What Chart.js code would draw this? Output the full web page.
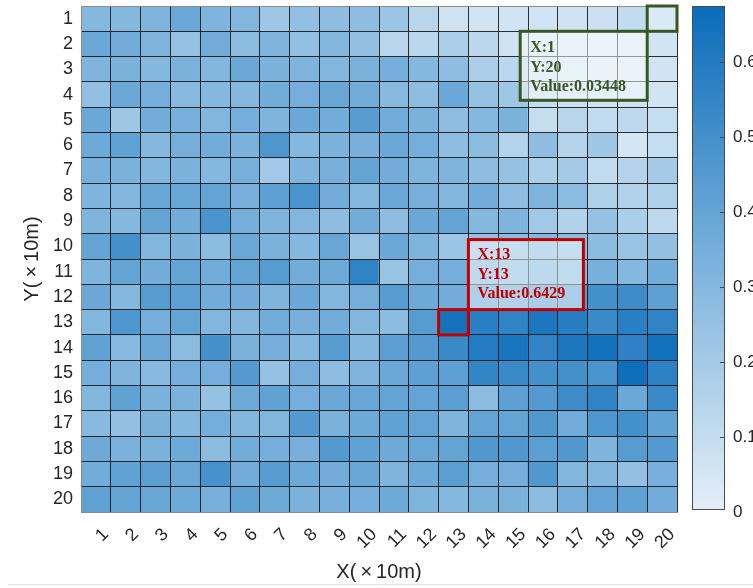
<!DOCTYPE html>
<html>
<head>
<meta charset="utf-8">
<script src="https://cdn.jsdelivr.net/npm/chart.js@4/dist/chart.umd.min.js"></script>
<style>
  html, body { margin: 0; padding: 0; background: #fff; overflow: hidden; }
</style>
</head>
<body>
<canvas id="c" width="753" height="588"></canvas>
<script>
// Grid axes (in units of 10 m)
const xLabels = ['1','2','3','4','5','6','7','8','9','10','11','12','13','14','15','16','17','18','19','20'];
const yLabels = ['1','2','3','4','5','6','7','8','9','10','11','12','13','14','15','16','17','18','19','20'];

// Cell values, one array per row (row 1 at the top), columns 1..20
const row01 = [0.30,0.30,0.32,0.38,0.32,0.31,0.22,0.26,0.27,0.27, 0.23,0.14,0.07,0.06,0.06,0.06,0.07,0.08,0.11,0.03448];
const row02 = [0.38,0.36,0.32,0.25,0.36,0.28,0.32,0.26,0.31,0.26, 0.14,0.13,0.18,0.13,0.07,0.06,0.05,0.04,0.05,0.06];
const row03 = [0.32,0.33,0.30,0.33,0.31,0.38,0.33,0.32,0.31,0.33, 0.35,0.30,0.27,0.18,0.13,0.08,0.06,0.05,0.05,0.06];
const row04 = [0.26,0.38,0.35,0.29,0.30,0.30,0.36,0.35,0.39,0.36, 0.29,0.27,0.38,0.25,0.22,0.10,0.08,0.07,0.07,0.06];
const row05 = [0.38,0.22,0.36,0.34,0.31,0.35,0.32,0.38,0.36,0.44, 0.36,0.33,0.27,0.30,0.33,0.10,0.14,0.11,0.12,0.10];
const row06 = [0.37,0.41,0.30,0.35,0.36,0.33,0.47,0.30,0.33,0.34, 0.38,0.35,0.27,0.28,0.15,0.27,0.15,0.22,0.05,0.10];
const row07 = [0.34,0.33,0.31,0.33,0.30,0.34,0.21,0.32,0.34,0.40, 0.36,0.32,0.32,0.27,0.25,0.18,0.20,0.11,0.15,0.20];
const row08 = [0.32,0.31,0.39,0.39,0.40,0.34,0.42,0.48,0.36,0.30, 0.38,0.34,0.31,0.36,0.27,0.32,0.28,0.17,0.16,0.17];
const row09 = [0.32,0.30,0.40,0.36,0.48,0.35,0.32,0.31,0.27,0.36, 0.27,0.38,0.40,0.30,0.32,0.21,0.16,0.25,0.18,0.12];
const row10 = [0.40,0.50,0.31,0.33,0.28,0.38,0.33,0.30,0.39,0.24, 0.38,0.32,0.23,0.25,0.28,0.30,0.28,0.28,0.24,0.26];
const row11 = [0.32,0.40,0.36,0.40,0.36,0.40,0.44,0.36,0.37,0.56, 0.24,0.35,0.35,0.32,0.30,0.33,0.31,0.34,0.30,0.36];
const row12 = [0.38,0.30,0.44,0.42,0.36,0.36,0.32,0.38,0.31,0.35, 0.44,0.37,0.36,0.42,0.40,0.45,0.44,0.50,0.52,0.42];
const row13 = [0.31,0.47,0.35,0.40,0.31,0.31,0.36,0.34,0.36,0.31, 0.28,0.44,0.6429,0.58,0.56,0.62,0.59,0.53,0.58,0.56];
const row14 = [0.41,0.29,0.38,0.28,0.50,0.33,0.35,0.30,0.44,0.30, 0.43,0.45,0.53,0.60,0.63,0.56,0.62,0.65,0.57,0.65];
const row15 = [0.35,0.32,0.29,0.35,0.35,0.45,0.25,0.35,0.27,0.32, 0.38,0.42,0.42,0.55,0.53,0.50,0.50,0.48,0.66,0.57];
const row16 = [0.31,0.41,0.33,0.33,0.25,0.37,0.41,0.35,0.38,0.39, 0.40,0.40,0.43,0.28,0.42,0.45,0.52,0.56,0.38,0.53];
const row17 = [0.29,0.26,0.33,0.30,0.35,0.31,0.31,0.45,0.33,0.37, 0.41,0.40,0.32,0.40,0.40,0.46,0.36,0.47,0.50,0.41];
const row18 = [0.37,0.33,0.33,0.37,0.28,0.36,0.35,0.34,0.45,0.41, 0.37,0.39,0.40,0.46,0.46,0.43,0.46,0.32,0.44,0.45];
const row19 = [0.36,0.41,0.43,0.38,0.49,0.36,0.44,0.37,0.36,0.39, 0.32,0.37,0.43,0.35,0.35,0.46,0.31,0.31,0.26,0.34];
const row20 = [0.41,0.40,0.39,0.37,0.34,0.41,0.37,0.33,0.34,0.35, 0.37,0.32,0.30,0.33,0.33,0.28,0.35,0.40,0.41,0.36];
const rows = [row01,row02,row03,row04,row05,row06,row07,row08,row09,row10,
              row11,row12,row13,row14,row15,row16,row17,row18,row19,row20];

// Colour scale
const colorMax = 0.675;
const colorTicks = [0, 0.1, 0.2, 0.3, 0.4, 0.5, 0.6];

// Data tips: [column, row] of the cell, and the X / Y text shown in the tip
const tipCells = [[20, 1], [13, 13]];
const tipX = ['1', '13'];
const tipY = ['20', '13'];

const stops = [
  [0.0, [228, 239, 248]],
  [0.5, [121, 177, 219]],
  [1.0, [10, 108, 186]]
];
function colorFor(v) {
  let t = Math.max(0, Math.min(1, v / colorMax));
  for (let i = 1; i < stops.length; i++) {
    if (t <= stops[i][0]) {
      const [t0, c0] = stops[i - 1], [t1, c1] = stops[i];
      const f = (t - t0) / (t1 - t0);
      const c = c0.map((a, k) => Math.round(a + (c1[k] - a) * f));
      return `rgb(${c[0]},${c[1]},${c[2]})`;
    }
  }
  return 'rgb(10,108,186)';
}

const datasets = rows.map((vals, r) => ({
  label: 'row ' + yLabels[r],
  data: vals.map(() => [r, r + 1]),
  backgroundColor: vals.map(colorFor),
  borderWidth: 0,
  barPercentage: 1,
  categoryPercentage: 1,
  grouped: false
}));

const lineDark = 'rgba(25,25,25,0.9)';
const edgeGray = '#8c8c8c';
const tickFont = { family: "'Liberation Sans', Arial, sans-serif", size: 18 };
const titleFont = { family: "'Liberation Sans', Arial, sans-serif", size: 20 };

// keep the plot box where the layout puts it, without label overhang padding
function noOverhang(s) {
  s.paddingTop = 0; s.paddingBottom = 0; s.paddingLeft = 0; s.paddingRight = 0;
}

// Colour bar drawn against the 'cb' scale
const colorBarPlugin = {
  id: 'colorBar',
  afterDraw(chart) {
    const { ctx, chartArea } = chart;
    const cb = chart.scales.cb;
    const x0 = chartArea.right + 15, w = 32;
    const top = cb.getPixelForValue(colorMax), bottom = cb.getPixelForValue(0) - 2;
    ctx.save();
    for (let y = Math.floor(top); y < bottom; y++) {
      ctx.fillStyle = colorFor(cb.getValueForPixel(y + 0.5));
      ctx.fillRect(x0, y, w, 1);
    }
    ctx.strokeStyle = '#4a4a4a';
    ctx.lineWidth = 1;
    ctx.strokeRect(Math.round(x0) + 0.5, Math.round(top) + 0.5, w, Math.round(bottom - top) - 1);
    ctx.beginPath();
    colorTicks.forEach(v => {
      const y = Math.round(cb.getPixelForValue(v)) + 0.5;
      if (v > 0) { ctx.moveTo(x0 + w - 4, y); ctx.lineTo(x0 + w, y); }
    });
    ctx.stroke();
    // thin rule along the bottom of the figure
    ctx.strokeStyle = '#e2e2e2';
    ctx.beginPath();
    ctx.moveTo(8, 584.5); ctx.lineTo(chart.width, 584.5);
    ctx.stroke();
    ctx.restore();
  }
};

// Data tip boxes
const tipPlugin = {
  id: 'tips',
  afterDraw(chart) {
    const { ctx } = chart;
    const xs = chart.scales.x, ys = chart.scales.y;
    const half = (xs.getPixelForValue(1) - xs.getPixelForValue(0)) / 2;
    const styles = [
      { color: '#385723', w: 127, h: 69, side: 'leftBelow', pad: 10, lines: [17, 37, 56] },
      { color: '#c00000', w: 115, h: 70, side: 'rightAbove', pad: 9, lines: [15, 35, 54] }
    ];
    ctx.save();
    tipCells.forEach(([col, row], i) => {
      const st = styles[i];
      const cx = xs.getPixelForValue(col - 1);
      const left = cx - half, right = cx + half;
      const top = ys.getPixelForValue(row - 1), bottom = ys.getPixelForValue(row);
      const value = rows[row - 1][col - 1];
      let bx, by;
      if (st.side === 'leftBelow') { bx = left - st.w; by = bottom; }
      else { bx = right; by = top - st.h; }
      ctx.fillStyle = 'rgba(255,255,255,0.5)';
      ctx.fillRect(bx, by, st.w, st.h);
      ctx.lineWidth = 3;
      ctx.strokeStyle = st.color;
      ctx.strokeRect(bx, by, st.w, st.h);
      ctx.strokeRect(left, top, right - left, bottom - top);
      ctx.fillStyle = st.color;
      ctx.font = "bold 16px 'Liberation Serif', 'Times New Roman', serif";
      ctx.textBaseline = 'middle';
      ctx.textAlign = 'left';
      const txt = ['X:' + tipX[i], 'Y:' + tipY[i], 'Value:' + value];
      txt.forEach((t, k) => ctx.fillText(t, bx + st.pad, by + st.lines[k]));
    });
    ctx.restore();
  }
};

new Chart(document.getElementById('c'), {
  type: 'bar',
  data: { labels: xLabels, datasets },
  options: {
    responsive: false,
    animation: false,
    devicePixelRatio: 1,
    layout: { padding: { top: 6, left: 0, right: 0, bottom: 0 } },
    plugins: { legend: { display: false }, tooltip: { enabled: false } },
    scales: {
      x: {
        type: 'category',
        offset: true,
        afterFit: s => { s.height = 76; noOverhang(s); },
        grid: {
          offset: true,
          z: 1,
          drawTicks: false,
          color: c => (c.index === 0 || c.index >= 20) ? edgeGray : lineDark,
          lineWidth: 1
        },
        border: { display: true, color: edgeGray, z: 1 },
        ticks: {
          autoSkip: false, minRotation: 45, maxRotation: 45,
          padding: 12, labelOffset: 10, color: '#262626', font: tickFont
        },
        title: {
          display: true, text: 'X(\u2009\u00d7\u200910m)', color: '#262626',
          font: titleFont, padding: { top: 0, bottom: 4 }
        }
      },
      y: {
        type: 'linear',
        position: 'left',
        reverse: true,
        min: 0, max: 20,
        afterFit: s => { s.width = 81; noOverhang(s); },
        grid: {
          z: 1,
          drawTicks: false,
          color: c => (c.index === 0 || c.index >= 20) ? edgeGray : lineDark,
          lineWidth: 1
        },
        border: { display: true, color: edgeGray, z: 1 },
        ticks: {
          stepSize: 1, autoSkip: false,
          callback: v => (v < 20 ? yLabels[v] : ''),
          labelOffset: 12.65, padding: 8, color: '#262626', font: tickFont
        },
        title: {
          display: true, text: 'Y(\u2009\u00d7\u200910m)', color: '#262626',
          font: titleFont, padding: { top: 20, bottom: 0 }
        }
      },
      cb: {
        type: 'linear',
        position: 'right',
        min: 0, max: colorMax,
        afterFit: s => { s.width = 76; noOverhang(s); },
        afterBuildTicks: s => { s.ticks = colorTicks.map(v => ({ value: v })); },
        grid: { display: false, drawTicks: true, tickLength: 56 },
        border: { display: false },
        ticks: {
          padding: 0, color: '#262626',
          font: { family: "'Liberation Sans', Arial, sans-serif", size: 17 },
          callback: v => (v === 0 ? '0' : v.toFixed(1))
        }
      }
    }
  },
  plugins: [colorBarPlugin, tipPlugin]
});
</script>
</body>
</html>
